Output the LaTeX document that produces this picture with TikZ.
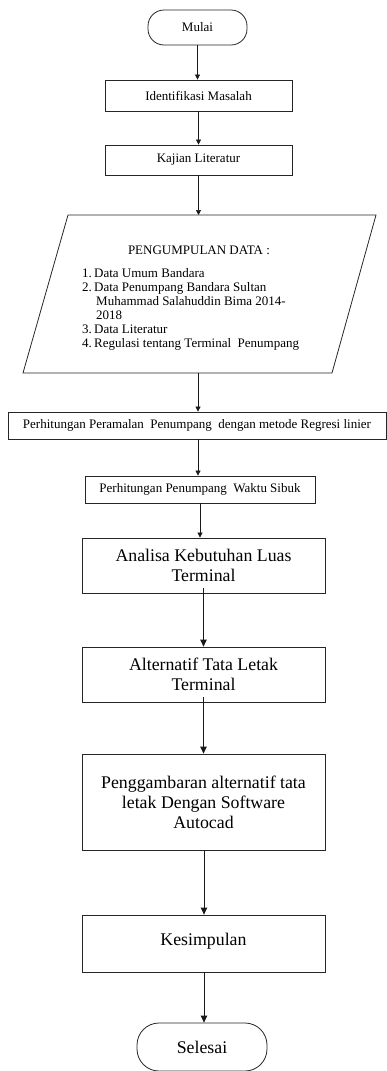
\documentclass[tikz,border=0pt]{standalone}
\usepackage{fontspec}
\setmainfont{Liberation Serif}
\usetikzlibrary{arrows.meta,calc}
\tikzset{
  sm/.style={font=\fontsize{13}{14}\selectfont},
  bg/.style={font=\fontsize{17.8}{20}\selectfont},
  box/.style={draw=black!85, line width=0.8pt, rectangle, inner sep=0pt, align=center},
  term/.style={draw=black!85, line width=0.8pt, rectangle, rounded corners=16pt, inner sep=0pt},
  arr/.style={-{Triangle[length=5pt,width=5pt]}, line width=0.7pt, black!90},
  arrb/.style={-{Triangle[length=7pt,width=6.5pt]}, line width=0.8pt, black!90},
}
\begin{document}
\begin{tikzpicture}[x=1pt,y=-1pt]
\useasboundingbox (0,0) rectangle (387,1071);
\node[term, sm, minimum width=99pt, minimum height=35pt] (mulai) at (197.5,27.5) {Mulai};
\node[box, sm, minimum width=187pt, minimum height=31pt] (ident) at (198.5,95.5) {Identifikasi Masalah};
\node[box, sm, minimum width=187pt, minimum height=30pt] (kajian) at (198.5,160) {Kajian Literatur};
% parallelogram
\draw[black!85, line width=0.8pt] (68,215) -- (376,215) -- (332,373) -- (23,373) -- cycle;
\coordinate (dtop) at (198.5,215);
\coordinate (dbot) at (198,373);
\node[sm] (judul) at (199,250) {PENGUMPULAN DATA :};
\node[sm, anchor=north west, align=left, inner sep=0pt] (list) at (82,268) {%
\makebox[12pt][l]{1.}Data Umum Bandara\\
\makebox[12pt][l]{2.}Data Penumpang Bandara Sultan\\
\hspace*{14pt}Muhammad Salahuddin Bima 2014-\\
\hspace*{14pt}2018\\
\makebox[12pt][l]{3.}Data Literatur\\
\makebox[12pt][l]{4.}Regulasi tentang Terminal\ \ Penumpang};
\node[box, sm, minimum width=378pt, minimum height=27pt] (ramal) at (197,425.5) {Perhitungan Peramalan\ \ Penumpang\ \ dengan metode Regresi linier};
\node[box, sm, minimum width=230pt, minimum height=27pt] (sibuk) at (200,489.5) {Perhitungan Penumpang\ \ Waktu Sibuk};
\node[box, bg, minimum width=243pt, minimum height=55pt] (analisa) at (203.5,565.5) {Analisa Kebutuhan Luas\\Terminal};
\node[box, bg, minimum width=243pt, minimum height=55pt] (alt) at (203.5,674.5) {Alternatif Tata Letak\\Terminal};
\node[box, bg, minimum width=243pt, minimum height=96pt] (gambar) at (203.5,802) {Penggambaran alternatif tata\\letak Dengan Software\\Autocad};
\node[box, bg, minimum width=243pt, minimum height=57pt] (simpul) at (203.5,943.5) {\raisebox{9pt}{Kesimpulan}};
\node[term, bg, minimum width=130pt, minimum height=48pt, rounded corners=22pt] (selesai) at (202,1047) {Selesai};
% connectors
\draw[arr] (mulai.south) -- (mulai.south |- ident.north);
\draw[arr] (ident.south) -- (ident.south |- kajian.north);
\draw[arr] (kajian.south) -- (dtop);
\draw[arr] (dbot) -- (dbot |- ramal.north);
\draw[arr] ($(ramal.south)+(1,0)$) -- ($(ramal.south |- sibuk.north)+(1,0)$);
\draw[arr] (sibuk.south) -- (sibuk.south |- analisa.north);
\draw[arrb] ($(analisa.south)+(0,-5)$) -- (analisa.south |- alt.north);
\draw[arrb] ($(alt.south)+(0,-5)$) -- (alt.south |- gambar.north);
\draw[arrb] ($(gambar.south)+(0.5,0)$) -- ($(gambar.south |- simpul.north)+(0.5,0)$);
\draw[arrb] ($(simpul.south)+(0.5,0)$) -- ($(simpul.south |- selesai.north)+(0.5,0)$);
\end{tikzpicture}
\end{document}
